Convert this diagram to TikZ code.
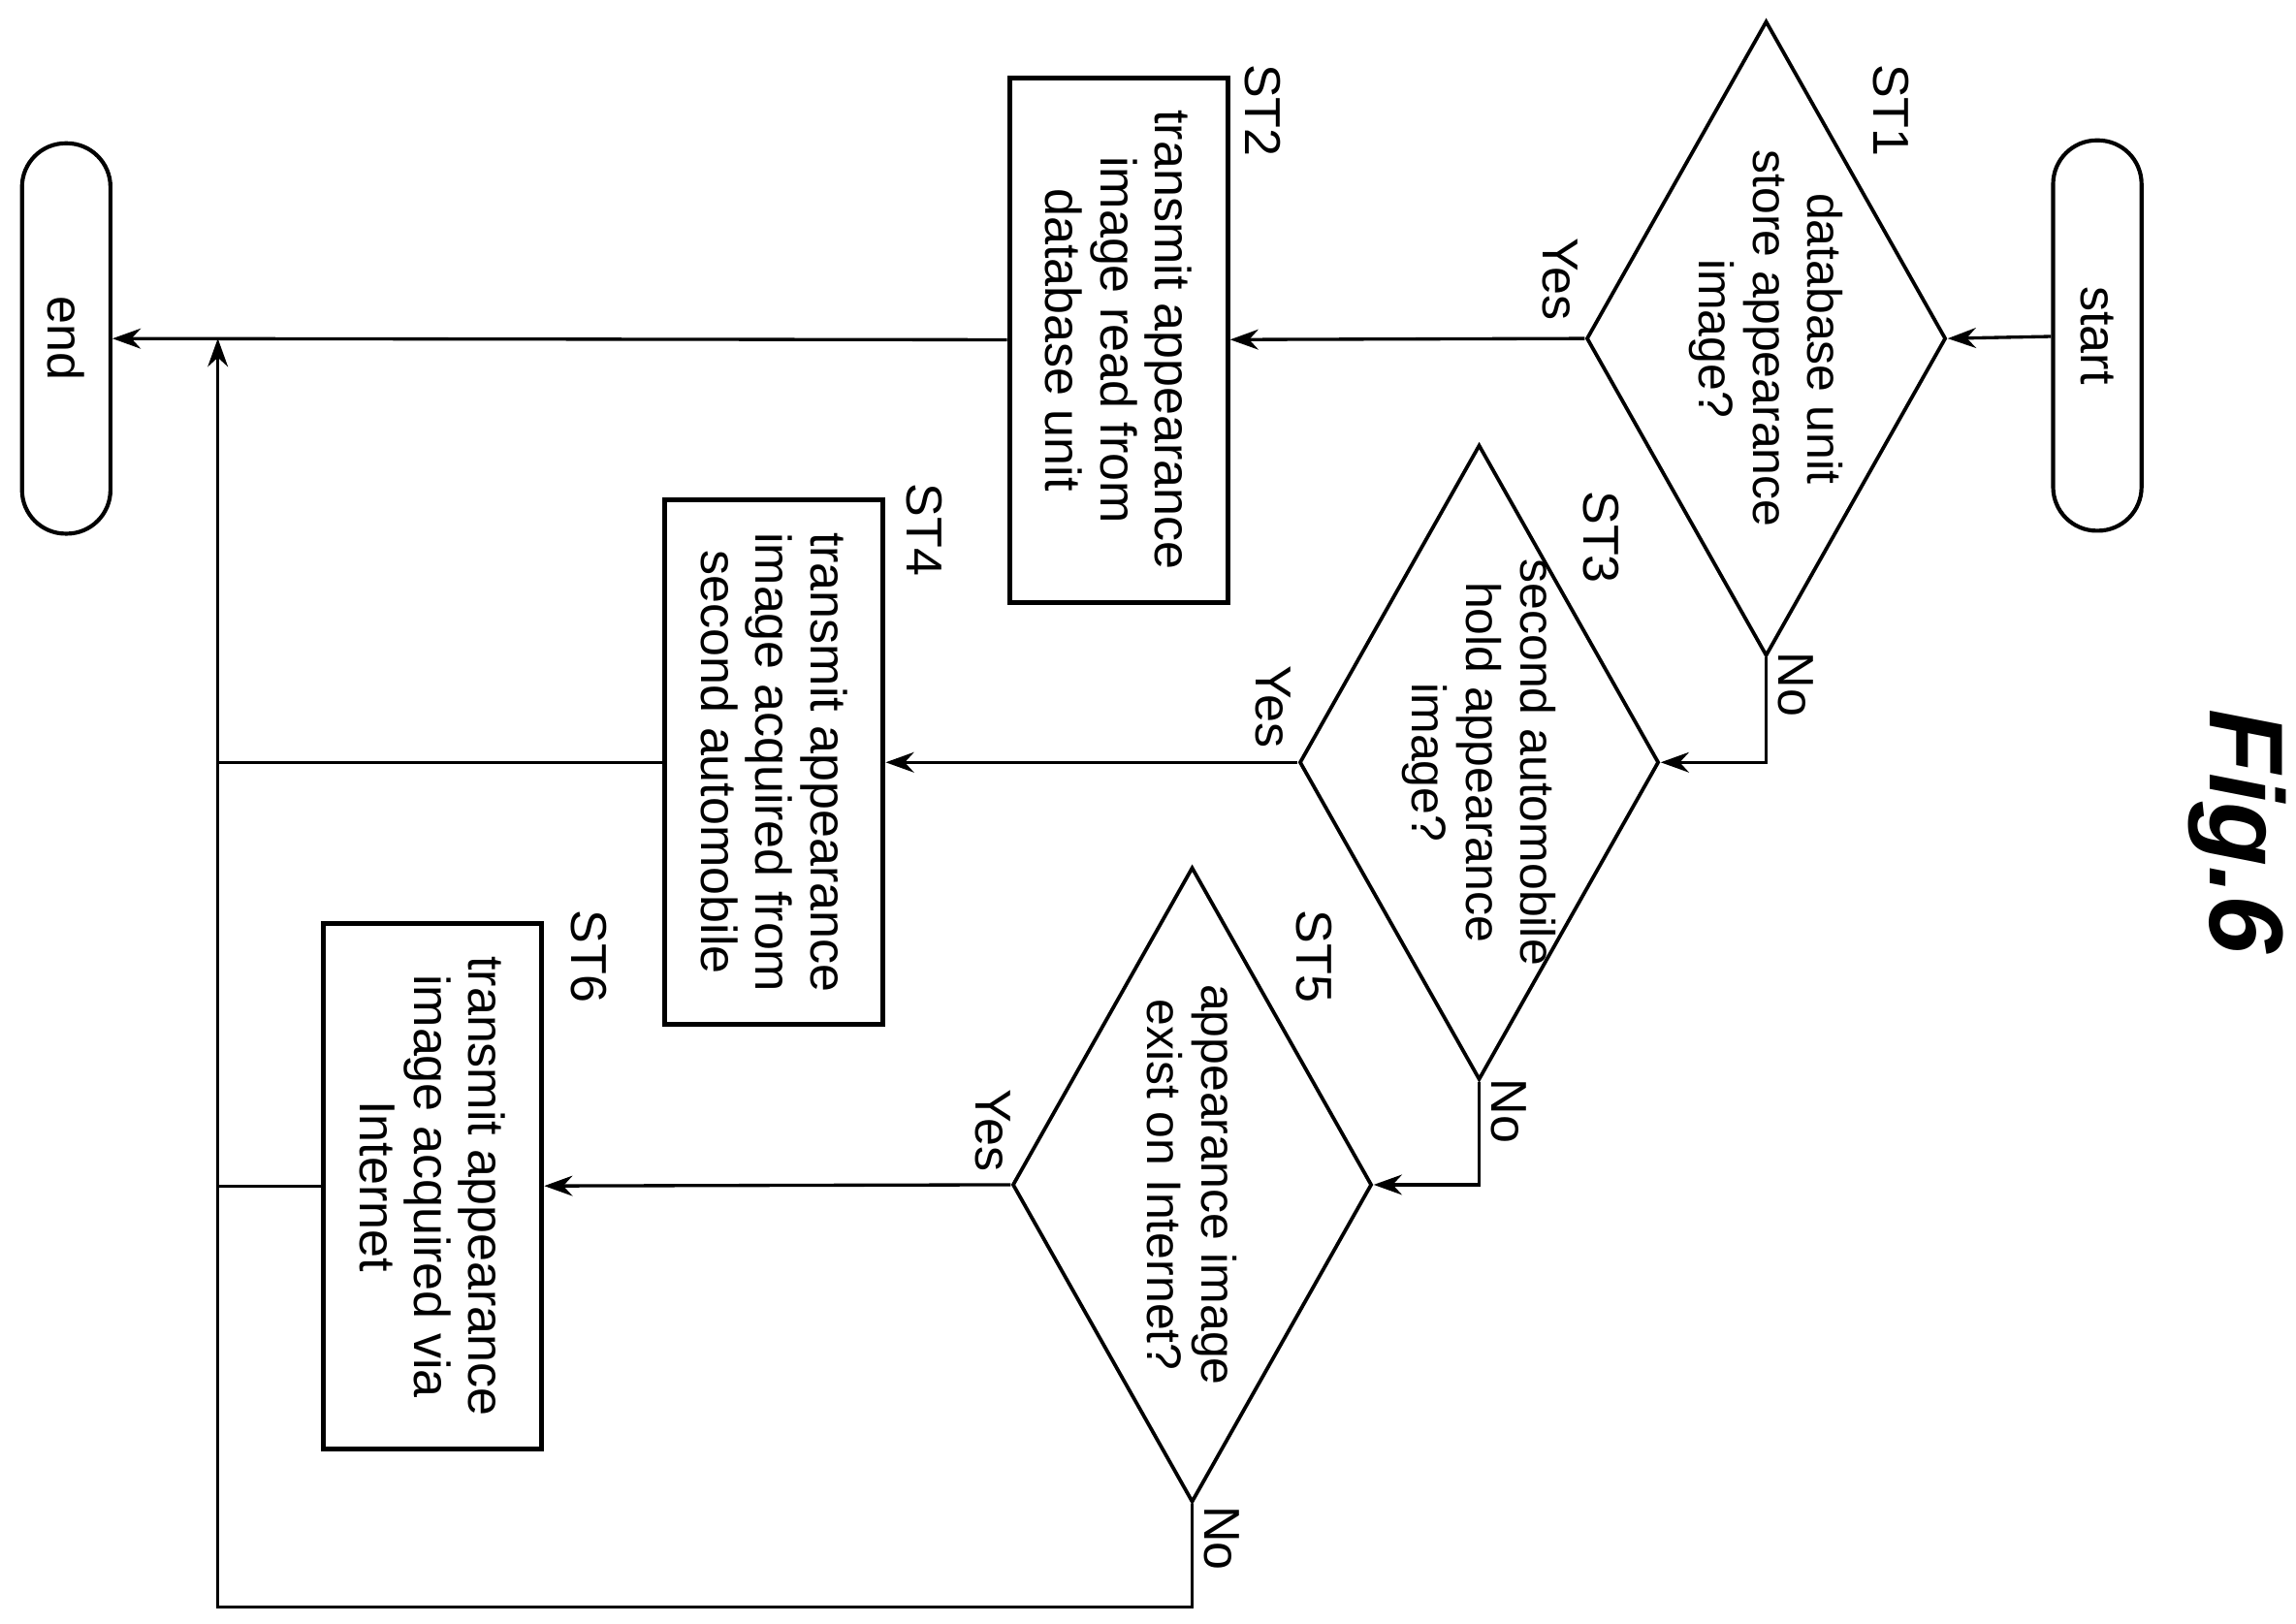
\documentclass[tikz,border=0pt]{standalone}
\usepackage{fontspec}
\setmainfont{Liberation Sans}
\usetikzlibrary{shapes.geometric, arrows.meta, positioning}

\begin{document}
\begin{tikzpicture}[
      x=0.01282cm, y=-0.01282cm,
      every node/.style={rotate=-90, font=\fontsize{12.5}{13.5}\selectfont},
      term/.style={rectangle, draw, rounded corners=0.38cm, line width=1pt, minimum width=3.4cm, minimum height=0.77cm},
      box/.style={rectangle, draw, line width=1.2pt, minimum width=4.57cm, minimum height=1.9cm, align=center},
      dec/.style={diamond, draw, line width=0.9pt, inner sep=0pt, minimum width=5.53cm, minimum height=3.13cm},
      txt/.style={align=center, inner sep=0pt, font=\fontsize{12}{13.5}\selectfont},
      lbl/.style={inner sep=1pt},
      arrow/.style={-{Stealth[length=7pt, width=5pt]}, line width=0.8pt},
      line/.style={line width=0.8pt}
      ]
      \useasboundingbox (0,0) rectangle (1560,1103);

      % terminals
      \node[term] (start) at (1425,228) {start};
      \node[term] (end) at (45,230) {end};

      % decisions
      \node[dec] (st1) at (1200,230) {};
      \node[txt] at (st1) {database unit\\store appearance\\image?};
      \node[dec] (st3) at (1005,518) {};
      \node[txt] at (st3) {second automobile\\hold appearance\\image?};
      \node[dec] (st5) at (810,805) {};
      \node[txt] at (st5) {appearance image\\exist on Internet?};

      % processes
      \node[box] (st2) at (760,231) {transmit appearance\\image read from\\database unit};
      \node[box] (st4) at (526,518) {transmit appearance\\image acquired from\\second automobile};
      \node[box] (st6) at (294,806) {transmit appearance\\image acquired via\\Internet};

      % step labels
      \node[lbl] at (1285,75) {ST1};
      \node[lbl] at (858,75) {ST2};
      \node[lbl] at (1088,365) {ST3};
      \node[lbl] at (628,360) {ST4};
      \node[lbl] at (893,650) {ST5};
      \node[lbl] at (400,650) {ST6};
      \node[lbl] at (1060,190) {Yes};
      \node[lbl] at (1220,465) {No};
      \node[lbl] at (865,480) {Yes};
      \node[lbl] at (1025,755) {No};
      \node[lbl] at (675,768) {Yes};
      \node[lbl] at (830,1045) {No};
      \node[font=\fontsize{26}{26}\selectfont\bfseries\itshape] (fig) at (1520,565) {Fig.6};

      % collector
      \coordinate (join) at (148,230);
      \coordinate (low) at (148,1092);

      % arrows
      \draw[arrow] (start) -- (st1.north);
      \draw[arrow] (st1.south) -- (st2);
      \draw[arrow] (st2) -- (end);
      \draw[arrow] (st1.east) |- (st3.north);
      \draw[arrow] (st3.south) -- (st4);
      \draw[arrow] (st3.east) |- (st5.north);
      \draw[arrow] (st5.south) -- (st6);
      \draw[arrow] (st5.east) |- (low) -- (join);
      \draw[line] (st4.south) -- (st4.south -| join);
      \draw[line] (st6.south) -- (st6.south -| join);
   \end{tikzpicture}
\end{document}
